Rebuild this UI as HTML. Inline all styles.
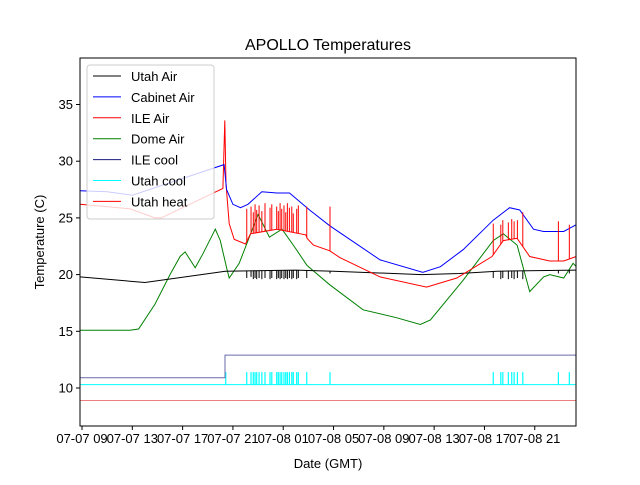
<!DOCTYPE html>
<html><head><meta charset="utf-8"><style>
body{margin:0;background:#fff;}
svg text{font-family:"Liberation Sans","DejaVu Sans",sans-serif;fill:#000;}
</style></head><body>
<svg id="chart" width="640" height="480" xmlns="http://www.w3.org/2000/svg">
<rect width="640" height="480" fill="#fff"/>
<g id="series"></g>
<rect x="80" y="58" width="496" height="368" fill="none" stroke="#000" stroke-width="1"/>
<g id="axes"></g>
<text x="328" y="50" font-size="16" text-anchor="middle">APOLLO Temperatures</text>
<text x="328" y="468" font-size="13" text-anchor="middle">Date (GMT)</text>
<text transform="translate(44,242) rotate(-90)" font-size="13" text-anchor="middle">Temperature (C)</text>
<g id="legend"></g>
</svg>
<script>
// hours since 07-07 09:00
const xTickLabels = ["07-07 09","07-07 13","07-07 17","07-07 21","07-08 01","07-08 05","07-08 09","07-08 13","07-08 17","07-08 21"];
const xTickHours = [0,4,8,12,16,20,24,28,32,36];
const yTicks = [10,15,20,25,30,35];
const cabinetAir = [[-0.16,27.4],[2,27.3],[4,27.0],[11.3,29.7],[11.5,27.5],[12,26.2],[12.6,25.9],[13.2,26.2],[14.3,27.3],[15.5,27.2],[16.5,27.2],[18.1,25.7],[19.7,24.3],[21.3,23.1],[23.7,21.3],[27.1,20.2],[28.5,20.7],[30.3,22.2],[32.7,24.8],[34,25.9],[34.8,25.7],[35.9,24],[36.7,23.8],[38.3,23.8],[39.3,24.4]];
const ileAir = [[-0.16,26.2],[3.8,25.8],[5.8,25.0],[6.3,25.0],[11.2,27.6],[11.35,33.6],[11.45,28],[11.7,24.5],[12.1,23.1],[13,22.7],[13.4,23.6],[15.5,24],[17.8,23.5],[17.9,23.2],[18.4,22.6],[19.7,22.1],[20.5,21.5],[23.7,19.8],[27.4,18.9],[29.8,19.7],[32.6,21.6],[33.5,23],[34.6,23.2],[35.6,21.6],[37.2,21.2],[38.3,21.2],[39.3,21.6]];
const domeAir = [[-0.16,15.1],[3.8,15.1],[4.5,15.2],[5.8,17.4],[7.0,20],[7.8,21.6],[8.2,22],[8.6,21.3],[9.0,20.6],[9.6,21.8],[10.6,24],[11.0,23],[11.5,20.6],[11.7,19.7],[12.5,21],[14.0,25.3],[14.9,23.3],[15.9,24],[16.8,22.6],[17.9,20.8],[19.7,19.1],[22.35,16.9],[25,16.2],[26.9,15.6],[27.7,16],[30.3,19.5],[32.7,23],[33.5,23.6],[34.6,22.6],[35.6,18.5],[36.7,19.8],[37.2,20],[38.3,19.7],[39.05,21],[39.3,20.7]];
const utahAir = [[-0.16,19.8],[5,19.3],[11.4,20.3],[17,20.4],[20,20.3],[27,20],[30,20.1],[33,20.3],[39.3,20.4]];
const ileCool = [[-0.16,10.9],[11.37,10.9],[11.37,12.9],[39.3,12.9]];
const utahHeat = [[-0.16,8.9],[39.3,8.9]];
const utahCoolBase = 10.3;
const utahCoolOn = 11.4;
const spikeHours = [11.43,13.1,13.44,13.62,13.76,13.89,14.08,14.3,14.55,14.95,15.09,15.48,15.61,15.75,15.88,16.06,16.2,16.33,16.49,16.68,16.8,17.07,17.2,17.87,19.72,32.7,33.3,33.46,33.9,34.17,34.36,34.62,35.05,37.88,38.75];
const redSpikePeak = [28,25.8,26.0,25.5,26.2,25.7,26.1,25.6,26.3,25.9,26.2,26.0,25.6,26.3,25.8,26.1,25.5,26.3,25.9,26.0,25.4,25.8,26.1,26.0,26.0,24.5,24.4,24.8,24.6,24.9,24.7,24.8,25.5,24.7,24.4];
const blackSpikeLow = [20.3,19.7,19.8,19.6,19.7,19.6,19.7,19.6,19.7,19.6,19.7,19.6,19.7,19.6,19.7,19.6,19.7,19.6,19.7,19.6,19.7,19.6,19.7,19.7,20.1,19.7,19.6,19.7,19.6,19.7,19.6,19.7,19.6,20.1,20.1];

const X0=80,X1=576,Y0=58,Y1=426;
const tMin=-0.16,tMax=39.28,vMin=6.65,vMax=39.1;
const xs=t=>X0+(t-tMin)/(tMax-tMin)*(X1-X0);
const ys=v=>Y1-(v-vMin)/(vMax-vMin)*(Y1-Y0);
const NS="http://www.w3.org/2000/svg";
const mk=(tag,attrs,parent)=>{const e=document.createElementNS(NS,tag);for(const k in attrs)e.setAttribute(k,attrs[k]);parent.appendChild(e);return e;};
const interp=(arr,t)=>{for(let i=1;i<arr.length;i++){if(t<=arr[i][0]){const a=arr[i-1],b=arr[i];const f=(t-a[0])/((b[0]-a[0])||1);return a[1]+f*(b[1]-a[1]);}}return arr[arr.length-1][1];};
const g=document.getElementById('series');
const poly=(arr,color,name)=>{const p=mk('polyline',{points:arr.map(d=>xs(d[0]).toFixed(1)+','+ys(d[1]).toFixed(1)).join(' '),fill:'none',stroke:color,'stroke-width':1},g);

};
poly(utahHeat,'#f08080','utah-heat-line');
// utah cool
const cool=mk('g',{},g);


mk('line',{x1:X0,x2:X1,y1:ys(utahCoolBase),y2:ys(utahCoolBase),stroke:'#00ffff','stroke-width':1},cool);
spikeHours.forEach(h=>{if(h<11.4)return;const l=mk('line',{x1:xs(h),x2:xs(h),y1:ys(utahCoolBase),y2:ys(utahCoolOn),stroke:'#00ffff','stroke-width':1.2},cool);

});
poly(ileCool,'#6a6aaa','ile-cool-line');
poly(domeAir,'#008000','dome-air-line');
poly(utahAir,'#000','utah-air-line');
poly(ileAir,'#ff0000','ile-air-line');
poly(cabinetAir,'#0000ff','cabinet-air-line');
spikeHours.forEach((h,i)=>{if(h<12)return;
const r=mk('line',{x1:xs(h),x2:xs(h),y1:ys(interp(ileAir,h)),y2:ys(redSpikePeak[i]),stroke:'#ff0000','stroke-width':1},g);


const b=mk('line',{x1:xs(h),x2:xs(h),y1:ys(interp(utahAir,h)),y2:ys(blackSpikeLow[i]),stroke:'#000','stroke-width':1},g);

});
// axes
const ax=document.getElementById('axes');
xTickHours.forEach((h,i)=>{const x=xs(h);
mk('line',{x1:x,x2:x,y1:Y1,y2:Y1+4,stroke:'#000'},ax);
const t=mk('text',{x:x,y:Y1+17,'font-size':13,'text-anchor':'middle'},ax);t.textContent=xTickLabels[i];

});
yTicks.forEach(v=>{const y=ys(v);
mk('line',{x1:X0-4,x2:X0,y1:y,y2:y,stroke:'#000'},ax);
const t=mk('text',{x:X0-7,y:y+4.5,'font-size':13,'text-anchor':'end'},ax);t.textContent=v;

});
// legend
const lg=document.getElementById('legend');
mk('rect',{x:87,y:65,width:127,height:154,rx:3,fill:'#fff','fill-opacity':0.8,stroke:'#ccc'},lg);
const names=["Utah Air","Cabinet Air","ILE Air","Dome Air","ILE cool","Utah cool","Utah heat"];
const colors=["#000","#0000ff","#ff0000","#008000","#1a1a80","#00ffff","#ff0000"];
names.forEach((n,i)=>{const y=76+i*20.9;
const e=mk('g',{},lg);


mk('line',{x1:93,x2:121,y1:y,y2:y,stroke:colors[i],'stroke-width':1},e);
const t=mk('text',{x:131,y:y+5,'font-size':13},e);t.textContent=n;});
</script>
</body></html>
